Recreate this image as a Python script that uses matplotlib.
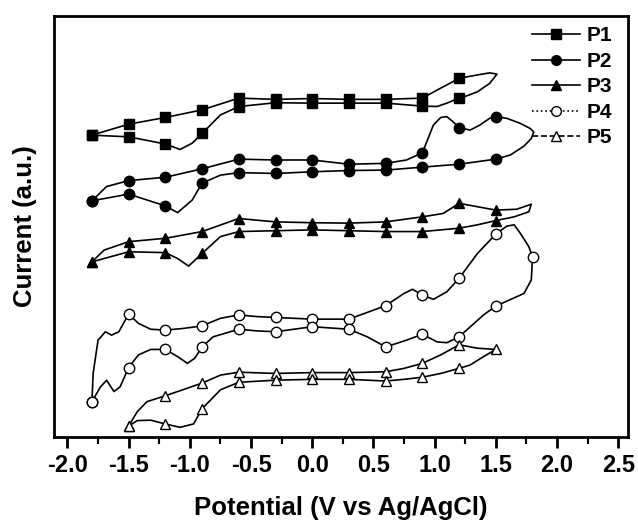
import matplotlib
matplotlib.use('Agg')
import matplotlib.pyplot as plt
from matplotlib.lines import Line2D
from matplotlib.ticker import MultipleLocator, FormatStrFormatter
import numpy as np

plt.rcParams['font.family'] = ['Liberation Sans', 'DejaVu Sans']
plt.rcParams['font.weight'] = 'bold'
plt.rcParams['axes.unicode_minus'] = False

# cyclic voltammograms, potential (V) / current (a.u.), each traced as a closed loop
v1 = [-1.8, -1.5, -1.2, -0.9, -0.6, -0.3, 0.0, 0.3, 0.6, 0.9, 1.02, 1.2, 1.35, 1.45, 1.51, 1.45, 1.35,
      1.26, 1.2, 1.1, 1.02, 0.9, 0.6, 0.3, 0.0, -0.3, -0.6, -0.75, -0.9, -0.98, -1.08, -1.2, -1.5, -1.8]
i1 = [71.7, 74.3, 75.9, 77.7, 80.5, 80.2, 80.4, 80.2, 80.2, 80.5, 82.4, 85.2, 86.0, 86.5, 86.2, 84.0, 82.0,
      81.0, 80.5, 79.3, 78.5, 78.6, 79.3, 79.3, 79.3, 79.4, 78.5, 76.5, 72.1, 69.8, 68.3, 69.6, 71.3, 71.7]

v2 = [-1.8, -1.68, -1.5, -1.2, -0.9, -0.6, -0.3, 0.0, 0.3, 0.6, 0.77, 0.9, 0.99, 1.05, 1.1, 1.15, 1.2,
      1.29, 1.37, 1.45, 1.5, 1.59, 1.7, 1.78, 1.81, 1.79, 1.73, 1.62, 1.5, 1.2, 0.9, 0.6, 0.3, 0.0, -0.3,
      -0.6, -0.75, -0.9, -0.98, -1.1, -1.2, -1.5, -1.8]
i2 = [56.1, 59.5, 60.9, 61.7, 63.7, 66.0, 65.8, 65.8, 64.8, 65.0, 65.8, 67.5, 74.1, 75.9, 76.1, 74.9, 73.5,
      72.9, 74.1, 75.7, 76.1, 75.7, 74.5, 73.3, 72.5, 70.9, 69.1, 67.0, 66.0, 64.8, 64.1, 63.4, 63.3, 63.0, 62.6,
      62.8, 62.2, 60.3, 56.3, 53.3, 54.9, 57.7, 56.1]

v3 = [-1.8, -1.7, -1.5, -1.2, -0.9, -0.6, -0.3, 0.0, 0.3, 0.6, 0.9, 1.07, 1.2, 1.35, 1.5, 1.67, 1.79,
      1.77, 1.65, 1.5, 1.35, 1.2, 0.9, 0.6, 0.3, 0.0, -0.3, -0.6, -0.75, -0.9, -1.01, -1.1, -1.2, -1.5, -1.8]
i3 = [41.6, 44.4, 46.4, 47.2, 48.8, 51.9, 51.1, 50.9, 50.8, 51.1, 52.3, 53.1, 55.5, 54.7, 53.9, 54.1, 55.3,
      53.5, 52.3, 51.4, 50.4, 49.6, 48.8, 48.8, 49.0, 49.2, 49.0, 48.8, 47.6, 43.6, 40.6, 42.4, 43.8, 44.0, 41.6]

v4 = [-1.8, -1.79, -1.75, -1.69, -1.64, -1.58, -1.5, -1.42, -1.32, -1.2, -1.05, -0.9, -0.75, -0.6, -0.45,
      -0.3, 0.0, 0.3, 0.6, 0.75, 0.82, 0.9, 0.99, 1.1, 1.2, 1.35, 1.5, 1.59, 1.65, 1.7, 1.77, 1.8, 1.79,
      1.73, 1.5, 1.4, 1.2, 1.1, 1.02, 0.9, 0.77, 0.6, 0.45, 0.3, 0.0, -0.3, -0.45, -0.6, -0.81, -0.9, -0.96,
      -1.02, -1.1, -1.2, -1.32, -1.42, -1.5, -1.57, -1.62, -1.68, -1.73, -1.8]
i4 = [8.4, 15.1, 23.0, 25.0, 24.2, 25.0, 29.2, 27.0, 25.6, 25.4, 25.8, 26.4, 28.2, 29.0, 28.6,
      28.4, 28.0, 28.0, 31.2, 34.1, 35.1, 33.7, 32.7, 34.5, 37.7, 43.6, 48.2, 50.1, 50.4, 48.4, 45.2, 42.8, 37.3,
      34.1, 31.1, 29.0, 23.8, 22.4, 22.6, 24.4, 23.0, 21.4, 23.8, 25.6, 26.2, 25.0, 25.2, 25.6, 23.8, 21.4, 18.7,
      17.5, 19.1, 20.8, 20.8, 19.5, 16.5, 11.9, 10.8, 13.5, 11.9, 8.4]

v5 = [-1.5, -1.43, -1.35, -1.2, -1.05, -0.9, -0.75, -0.6, -0.3, 0.0, 0.3, 0.6, 0.75, 0.9, 1.05, 1.2, 1.35,
      1.5, 1.4, 1.29, 1.2, 1.05, 0.9, 0.75, 0.6, 0.3, 0.0, -0.3, -0.6, -0.75, -0.9, -0.97, -1.08, -1.2,
      -1.32, -1.43, -1.5]
i5 = [2.6, 6.0, 8.4, 9.8, 11.3, 12.8, 14.7, 15.4, 15.1, 15.3, 15.3, 15.5, 16.3, 17.5, 19.5, 21.9, 21.1,
      20.8, 19.1, 17.1, 16.3, 15.1, 14.2, 13.7, 13.3, 13.7, 13.7, 13.5, 13.0, 11.2, 6.7, 3.1, 2.3, 3.1,
      4.0, 3.9, 2.6]

labels = ['P1', 'P2', 'P3', 'P4', 'P5']
series = [(v1, i1), (v2, i2), (v3, i3), (v4, i4), (v5, i5)]
markers = ['s', 'o', '^', 'o', '^']
filled = [True, True, True, False, False]
legend_ls = ['-', '-', '-', ':', '--']


# markers sit on the 0.3 V grid, other points only shape the line
def marker_idx(v):
    v = np.asarray(v)
    r = v / 0.3
    return list(np.where(np.abs(r - np.round(r)) < 0.01)[0])


fig = plt.figure(figsize=(6.38, 5.23), dpi=100)
ax = fig.add_axes([0.0846, 0.1644, 0.8997, 0.805])

for (v, cur), m, f in zip(series, markers, filled):
    ax.plot(v, cur, color='black', lw=1.2, marker=m, markevery=marker_idx(v),
            ms=7.5 if m != 's' else 7, mfc='black' if f else 'white', mec='black', mew=1.0)

ax.set_xlim(-2.11, 2.58)
ax.set_ylim(0, 100)
ax.xaxis.set_major_locator(MultipleLocator(0.5))
ax.xaxis.set_minor_locator(MultipleLocator(0.25))
ax.xaxis.set_major_formatter(FormatStrFormatter('%.1f'))
ax.set_yticks([])
ax.tick_params(axis='x', which='major', direction='out', length=8, width=2, labelsize=17, pad=4)
ax.tick_params(axis='x', which='minor', direction='out', length=5, width=1.5)
for s in ax.spines.values():
    s.set_linewidth(2)

ax.set_xlabel('Potential (V vs Ag/AgCl)', fontsize=18.5, fontweight='bold')
ax.set_ylabel('Current (a.u.)', fontsize=18.5, fontweight='bold')
ax.xaxis.set_label_coords(0.5, -0.14)
ax.yaxis.set_label_coords(-0.03, 0.5)

handles = []
for m, f, ls, lab in zip(markers, filled, legend_ls, labels):
    handles.append(Line2D([], [], color='black', lw=1.2, ls=ls, marker=m, ms=7 if m != 's' else 6.5,
                          mfc='black' if f else 'white', mec='black', mew=1.0, label=lab))
ax.legend(handles=handles, loc='upper right', bbox_to_anchor=(0.99, 1.0), frameon=False, fontsize=15,
          handlelength=2.3, handletextpad=0.3, labelspacing=0.31, borderaxespad=0.2, borderpad=0.3)

fig.savefig('out.png', dpi=100)
